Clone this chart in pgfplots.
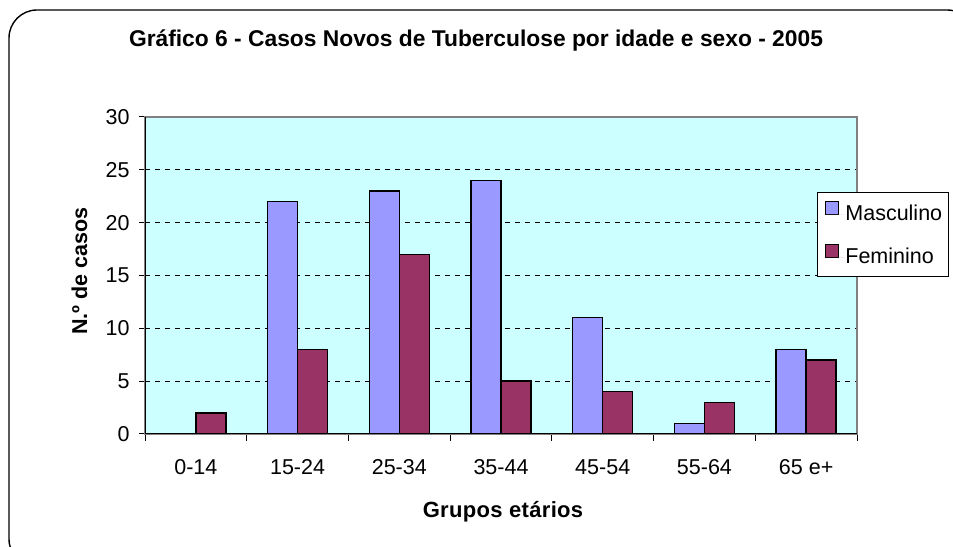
\documentclass[border=0pt]{standalone}
\usepackage{pgfplots}
\pgfplotsset{compat=1.18}
\usepackage{fontspec}
\setmainfont{Liberation Sans}
\definecolor{plotbg}{HTML}{CCFFFF}
\definecolor{masc}{HTML}{9999FF}
\definecolor{fem}{HTML}{993366}
\definecolor{frame}{HTML}{808080}
\begin{document}
\begin{tikzpicture}[x=1bp,y=1bp]
\path[use as bounding box] (0,0) rectangle (953,547);
\begin{scope}
\clip (0,0) rectangle (953,547);
\draw[line width=1.4bp, rounded corners=28bp] (9,-20) rectangle (975,537);
\end{scope}
\node[anchor=base, font=\fontsize{22.8bp}{26bp}\selectfont\bfseries] at (476,500) {Gráfico 6 - Casos Novos de Tuberculose por idade e sexo - 2005};
\node[anchor=base, font=\fontsize{22bp}{26bp}\selectfont\bfseries\addfontfeature{LetterSpace=1.5}] at (503,29) {Grupos etários};
\node[anchor=base, rotate=90, font=\fontsize{21.5bp}{25bp}\selectfont\bfseries] at (87,276) {N.º de casos};
\begin{axis}[
  at={(145bp,113bp)}, anchor=south west,
  scale only axis, width=712bp, height=317bp,
  xmin=-0.5, xmax=6.5, ymin=0, ymax=30,
  axis background/.style={fill=plotbg},
  axis line style={draw=frame, line width=1.2bp},
  ytick={0,5,...,30},
  xtick={0,...,6},
  xticklabels={0-14,15-24,25-34,35-44,45-54,55-64,65 e+},
  major x tick style={draw=none},
  minor xtick={-0.5,0.5,...,6.5},
  minor tick length=7bp,
  major tick length=6bp,
  tick align=outside,
  xtick pos=bottom, ytick pos=left,
  tick style={black, line width=1bp},
  ymajorgrids,
  major grid style={black, line width=0.8bp, dash pattern=on 5bp off 5bp},
  ticklabel style={font=\fontsize{21.5bp}{25bp}\selectfont},
  /pgf/number format/assume math mode=true,
  yticklabel style={xshift=-6bp},
  xticklabel style={anchor=base, text height=15bp, text depth=4bp, yshift=-35bp},
  ybar, bar width=30bp,
  legend style={at={(0.9438,0.7634)}, anchor=north west, draw=black, line width=0.8bp, fill=white,
     font=\fontsize{21.5bp}{25bp}\selectfont, inner xsep=6bp, inner ysep=9bp, row sep=20bp,
     nodes={inner sep=0pt, text height=15bp, text depth=4bp}},
  legend cell align=left,
]
\addplot[fill=masc, draw=black, line width=1.4bp, bar shift=-15bp,
  legend image code/.code={\draw[fill=masc, draw=black, line width=0.8bp] (2bp,0bp) rectangle (15bp,13bp); \path[draw=none] (0bp,0bp) -- (22bp,0bp);}]
  coordinates {(1,22) (2,23) (3,24) (4,11) (5,1) (6,8)};
\addlegendentry{Masculino}
\addplot[fill=fem, draw=black, line width=1.4bp, bar shift=15bp,
  legend image code/.code={\draw[fill=fem, draw=black, line width=0.8bp] (2bp,0bp) rectangle (15bp,13bp); \path[draw=none] (0bp,0bp) -- (22bp,0bp);}]
  coordinates {(0,2) (1,8) (2,17) (3,5) (4,4) (5,3) (6,7)};
\addlegendentry{Feminino}
\draw[black, line width=1.2bp] (rel axis cs:0,1) -- (rel axis cs:0,0) -- (rel axis cs:1,0);
\end{axis}
\end{tikzpicture}
\end{document}
